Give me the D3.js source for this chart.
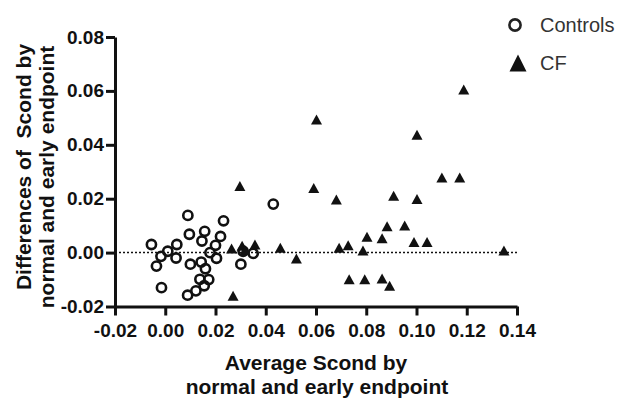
<!DOCTYPE html>
<html><head><meta charset="utf-8">
<script src="https://cdn.jsdelivr.net/npm/d3@7"></script>
<style>body{margin:0;background:#fff}svg{display:block}</style>
</head><body>
<svg id="c" width="617" height="398"></svg>
<script>
const controlsX = [-0.0055,-0.0035,-0.0017,-0.0015,0.001,0.0043,0.0046,0.009,0.0096,0.010,0.0089,0.0122,0.0138,0.0146,0.0157,0.0143,0.016,0.0173,0.0155,0.0178,0.020,0.0204,0.022,0.0232,0.0301,0.031,0.035,0.043];
const controlsY = [0.003,-0.005,-0.0014,-0.013,0.0005,-0.002,0.003,0.0138,0.0068,-0.0043,-0.0158,-0.0142,-0.0099,0.0043,0.0079,-0.0035,-0.006,-0.010,-0.0123,0.000,0.0027,-0.0021,0.006,0.0118,-0.0043,0.0005,-0.0003,0.018];
const cfX = [0.0264,0.027,0.0297,0.0306,0.0317,0.0357,0.0458,0.0522,0.0602,0.0591,0.0681,0.0692,0.0728,0.0732,0.0787,0.0794,0.0803,0.0863,0.0863,0.0893,0.0883,0.0909,0.0953,0.1002,0.1002,0.099,0.1042,0.1101,0.1172,0.1188,0.1348];
const cfY = [0.0015,-0.016,0.0247,0.0025,0.001,0.003,0.0018,-0.0022,0.0494,0.024,0.0197,0.0018,0.0027,-0.0099,0.0008,-0.0099,0.0059,0.0053,-0.0096,-0.0123,0.0098,0.0211,0.0101,0.0437,0.0199,0.0039,0.0039,0.0279,0.0279,0.0605,0.0008];
const xTicks = [-0.02,0.00,0.02,0.04,0.06,0.08,0.10,0.12,0.14];
const yTicks = [-0.02,0.00,0.02,0.04,0.06,0.08];
const seriesNames = ["Controls","CF"];
const xTitle = ["Average Scond by","normal and early endpoint"];
const yTitle = ["Differences of  Scond by","normal and early endpoint"];

const svg = d3.select("#c");
const ink = "#111";
const tf = "Liberation Sans, Arial, sans-serif";
const x = d3.scaleLinear().domain([-0.02,0.14]).range([115,517]);
const y = d3.scaleLinear().domain([-0.02,0.08]).range([306.5,37]);
const fmt = v => d3.format(".2f")(v).replace("\u2212","-");

// zero reference line
svg.append("line").attr("x1",x(-0.02)).attr("x2",x(0.14)).attr("y1",y(0)).attr("y2",y(0))
  .attr("stroke",ink).attr("stroke-width",1.5).attr("stroke-dasharray","2,2");

const xa = svg.append("g").attr("transform",`translate(0,${y(-0.02)})`)
  .call(d3.axisBottom(x).tickValues(xTicks).tickFormat(fmt).tickSize(9).tickSizeOuter(0).tickPadding(8));
const ya = svg.append("g").attr("transform",`translate(${x(-0.02)},0)`)
  .call(d3.axisLeft(y).tickValues(yTicks).tickFormat(fmt).tickSize(9).tickSizeOuter(0).tickPadding(2));
[xa,ya].forEach(a=>{
  a.select(".domain").attr("stroke",ink).attr("stroke-width",3);
  a.selectAll(".tick line").attr("stroke",ink).attr("stroke-width",3);
  a.selectAll("text").attr("fill",ink).attr("font-family",tf)
    .attr("font-weight","bold").attr("font-size",19);
});

// points
const controls = controlsX.map((v,i)=>({x:v,y:controlsY[i]}));
const cf = cfX.map((v,i)=>({x:v,y:cfY[i]}));
svg.append("g").selectAll("circle").data(controls).join("circle")
  .attr("cx",d=>x(d.x)).attr("cy",d=>y(d.y)).attr("r",4.6)
  .attr("fill","none").attr("stroke",ink).attr("stroke-width",2.6);
const tri = (w,h)=>`M0,${-h/2}L${w/2},${h/2}L${-w/2},${h/2}Z`;
svg.append("g").selectAll("path").data(cf).join("path")
  .attr("transform",d=>`translate(${x(d.x)},${y(d.y)})`)
  .attr("d",tri(11,10)).attr("fill",ink);

// titles
const title = (sel)=>sel.attr("font-family",tf).attr("font-weight","bold").attr("font-size",21)
  .attr("fill",ink).attr("text-anchor","middle").style("white-space","pre");
title(svg.append("text").attr("x",316).attr("y",369.5)).text(xTitle[0]);
title(svg.append("text").attr("x",317).attr("y",393.5)).text(xTitle[1]);
title(svg.append("text").attr("transform","translate(31,167) rotate(-90)")).text(yTitle[0]);
title(svg.append("text").attr("transform","translate(54,177) rotate(-90)")).text(yTitle[1]);

// legend
const lg = svg.append("g");
lg.append("circle").attr("cx",515).attr("cy",25).attr("r",5.6).attr("fill","none").attr("stroke","#222").attr("stroke-width",2.6);
lg.append("path").attr("transform","translate(518,63)").attr("d",tri(17,17)).attr("fill","#111");
lg.append("text").attr("x",540).attr("y",31.5).attr("font-family",tf).attr("font-size",20).attr("fill","#333").text(seriesNames[0]);
lg.append("text").attr("x",540).attr("y",69.5).attr("font-family",tf).attr("font-size",20).attr("fill","#333").text(seriesNames[1]);
</script>
</body></html>
